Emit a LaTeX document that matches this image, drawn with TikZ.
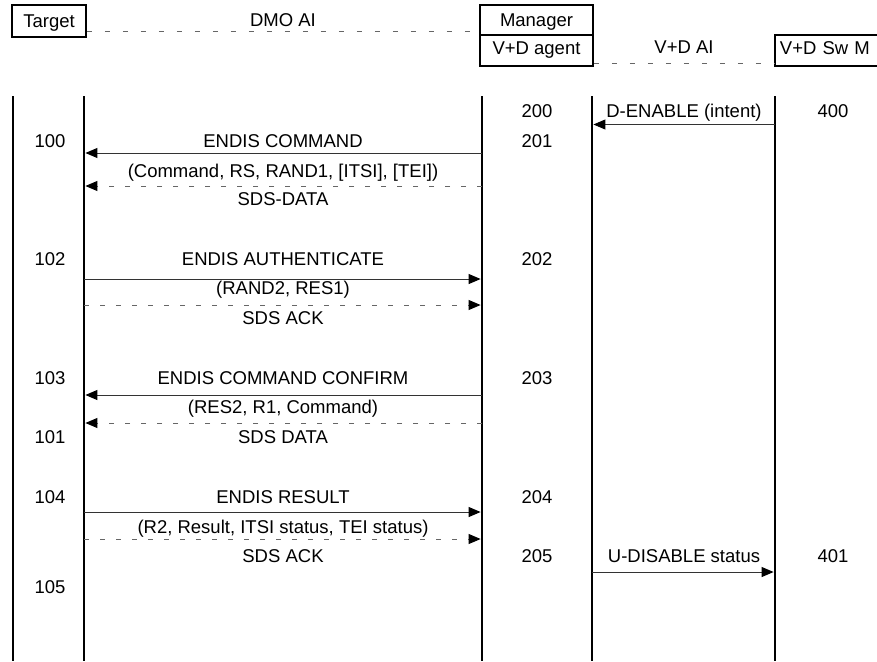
\documentclass[tikz,border=0pt]{standalone}
\usepackage{fontspec}
\setmainfont{Liberation Sans}
\usetikzlibrary{arrows.meta}
\tikzset{
  txt/.style={font=\fontsize{18.5}{22}\selectfont},
  lbl/.style={txt, anchor=base, inner sep=0pt},
  hbox/.style={txt, draw, line width=1.8pt, inner sep=0pt, text height=13.2pt, text depth=0pt},
  life/.style={line width=2.8pt},
  tip/.style={-{Triangle[length=12pt,width=10pt,color=black]}},
  msg/.style={tip, line width=1pt, black!80},
  dmsg/.style={tip, line width=0.9pt, black!60, dash pattern=on 5pt off 11pt},
  hdash/.style={line width=0.9pt, black!60, dash pattern=on 5pt off 13pt},
}
\begin{document}
\begin{tikzpicture}[x=1pt,y=-1pt]
\useasboundingbox (0,0) rectangle (877,661);
\clip (0,0) rectangle (877,661);
\fill[white] (0,0) rectangle (877,661);

% header boxes
\node[hbox, minimum width=74pt, minimum height=32pt] (target) at (49,21) {Target};
\node[hbox, minimum width=113pt, minimum height=30pt] (manager) at (536.5,20) {Manager};
\node[hbox, minimum width=113pt, minimum height=31pt, text depth=6pt] (agent) at (536.5,50.5) {V+D agent};
\node[hbox, anchor=west, text width=120pt, align=left, inner xsep=5pt, minimum height=31pt, text depth=6pt] (swm) at (774,50.5) {V+D Sw M};

\draw[hdash] ([yshift=6pt]target.south east) -- ([yshift=6pt]target.south east -| manager.west);
\draw[hdash] ([yshift=3pt]agent.south east) -- ([yshift=3pt]agent.south east -| swm.west);
\node[lbl] (dmo) at (283,27) {DMO AI};
\node[lbl] (vdai) at (684,53) {V+D AI};

% lifelines
\coordinate (l1t) at (13,96);  \coordinate (l1b) at (13,661);
\coordinate (l2t) at (84,96);  \coordinate (l2b) at (84,661);
\coordinate (l3t) at (482,96); \coordinate (l3b) at (482,661);
\coordinate (l4t) at (592,96); \coordinate (l4b) at (592,661);
\coordinate (l5t) at (775,96); \coordinate (l5b) at (775,661);
\draw[life] (l1t) -- (l1b);
\draw[life] (l2t) -- (l2b);
\draw[life] (l3t) -- (l3b);
\draw[life] (l4t) -- (l4b);
\draw[life] (l5t) -- (l5b);

% number labels
\node[lbl] (n100) at (50,147) {100};
\node[lbl] (n102) at (50,265.7) {102};
\node[lbl] (n103) at (50,384) {103};
\node[lbl] (n101) at (50,443) {101};
\node[lbl] (n104) at (50,503) {104};
\node[lbl] (n105) at (50,593) {105};
\node[lbl] (n200) at (537,117) {200};
\node[lbl] (n201) at (537,147) {201};
\node[lbl] (n202) at (537,265.7) {202};
\node[lbl] (n203) at (537,384) {203};
\node[lbl] (n204) at (537,503) {204};
\node[lbl] (n205) at (537,562) {205};
\node[lbl] (n400) at (833,117) {400};
\node[lbl] (n401) at (833,562) {401};

% message labels
\node[lbl] (m1) at (283,147) {ENDIS COMMAND};
\node[lbl] (m1p) at (283,177) {(Command, RS, RAND1, [ITSI], [TEI])};
\node[lbl] (m1s) at (283,205) {SDS-DATA};
\node[lbl] (m2) at (283,265.7) {ENDIS AUTHENTICATE};
\node[lbl] (m2p) at (283,294) {(RAND2, RES1)};
\node[lbl] (m2s) at (283,324) {SDS ACK};
\node[lbl] (m3) at (283,384) {ENDIS COMMAND CONFIRM};
\node[lbl] (m3p) at (283,413) {(RES2, R1, Command)};
\node[lbl] (m3s) at (283,443) {SDS DATA};
\node[lbl] (m4) at (283,503) {ENDIS RESULT};
\node[lbl] (m4p) at (283,533) {(R2, Result, ITSI status, TEI status)};
\node[lbl] (m4s) at (283,562) {SDS ACK};
\node[lbl] (de) at (684,117) {D-ENABLE (intent)};
\node[lbl] (ud) at (684,562) {U-DISABLE status};

% arrow end points
\coordinate (a0s) at (775,124.5); \coordinate (a0e) at (593.4,124.5);
\coordinate (a1s) at (482,153);   \coordinate (a1e) at (85.4,153);
\coordinate (a2s) at (482,186);   \coordinate (a2e) at (85.4,186);
\coordinate (a3s) at (84,279);    \coordinate (a3e) at (480.6,279);
\coordinate (a4s) at (84,305);    \coordinate (a4e) at (480.6,305);
\coordinate (a5s) at (482,395);   \coordinate (a5e) at (85.4,395);
\coordinate (a6s) at (482,423);   \coordinate (a6e) at (85.4,423);
\coordinate (a7s) at (84,512);    \coordinate (a7e) at (480.6,512);
\coordinate (a8s) at (84,539);    \coordinate (a8e) at (480.6,539);
\coordinate (a9s) at (592,572);   \coordinate (a9e) at (773.6,572);

\draw[msg] (a0s) -- (a0e);
\draw[msg] (a1s) -- (a1e);
\draw[dmsg] (a2s) -- (a2e);
\draw[msg] (a3s) -- (a3e);
\draw[dmsg] (a4s) -- (a4e);
\draw[msg] (a5s) -- (a5e);
\draw[dmsg] (a6s) -- (a6e);
\draw[msg] (a7s) -- (a7e);
\draw[dmsg] (a8s) -- (a8e);
\draw[msg] (a9s) -- (a9e);
\end{tikzpicture}
\end{document}
